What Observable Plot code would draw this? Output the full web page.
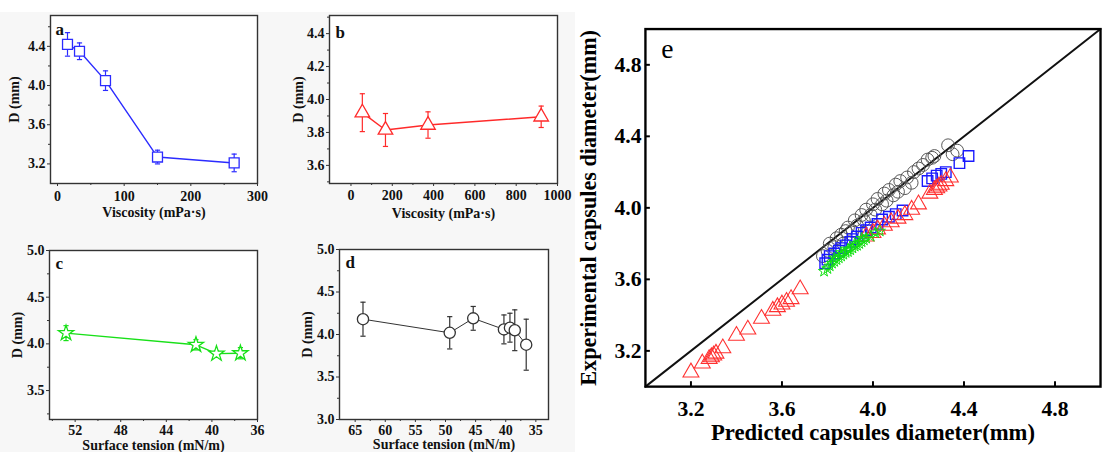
<!DOCTYPE html>
<html>
<head>
<meta charset="utf-8">
<script src="https://cdn.jsdelivr.net/npm/d3@7"></script>
<script src="https://cdn.jsdelivr.net/npm/@observablehq/plot@0.6"></script>
<style>
  html, body { margin: 0; padding: 0; background: #ffffff; overflow: hidden; }
  #root { position: relative; width: 1102px; height: 452px; overflow: hidden; background: #ffffff; }
  #leftbg { position: absolute; left: 0; top: 12px; width: 575px; height: 440px; background: #f7f7f7; }
  .panel { position: absolute; }
</style>
</head>
<body>
<div id="root"><div id="leftbg"></div></div>
<script>
// ---------- Panel a: viscosity (blue squares)
const aVisc = [15, 33, 72, 150, 265];
const aD    = [4.42, 4.35, 4.05, 3.27, 3.21];
const aErr  = [0.12, 0.085, 0.10, 0.07, 0.09];
const aXTicks = [0, 100, 200, 300];
const aXMinor = [50, 150, 250];
const aYTicks = [3.2, 3.6, 4.0, 4.4];
const aYMinor = [3.4, 3.8, 4.2, 4.6];

// ---------- Panel b: viscosity (red triangles)
const bVisc = [55, 167, 373, 921];
const bD    = [3.92, 3.815, 3.845, 3.895];
const bErr  = [0.115, 0.10, 0.08, 0.065];
const bXTicks = [0, 200, 400, 600, 800, 1000];
const bXMinor = [100, 300, 500, 700, 900];
const bYTicks = [3.6, 3.8, 4.0, 4.2, 4.4];
const bYMinor = [3.5, 3.7, 3.9, 4.1, 4.3, 4.5];

// ---------- Panel c: surface tension (green stars)
const cST  = [52.8, 41.4, 39.6, 37.5];
const cD   = [4.115, 3.99, 3.895, 3.90];
const cErr = [0.08, 0.055, 0.03, 0.06];
const cXTicks = [52, 48, 44, 40, 36];
const cXMinor = [54, 50, 46, 42, 38];
const cYTicks = [3.5, 4.0, 4.5, 5.0];
const cYMinor = [3.25, 3.75, 4.25, 4.75];

// ---------- Panel d: surface tension (black circles)
const dST  = [63.7, 49.3, 45.4, 40.3, 39.3, 38.5, 36.6];
const dD   = [4.18, 4.02, 4.19, 4.06, 4.08, 4.05, 3.88];
const dErr = [0.20, 0.19, 0.14, 0.17, 0.17, 0.24, 0.30];
const dXTicks = [65, 60, 55, 50, 45, 40, 35];
const dXMinor = [62.5, 57.5, 52.5, 47.5, 42.5, 37.5];
const dYTicks = [3.0, 3.5, 4.0, 4.5, 5.0];
const dYMinor = [3.25, 3.75, 4.25, 4.75];

// ---------- Panel e: predicted vs experimental
const eCircX = [3.78,3.80,3.81,3.83,3.84,3.86,3.87,3.88,3.89,3.91,3.92,3.93,3.95,3.96,3.97,3.99,4.00,4.01,4.02,4.04,4.05,4.06,4.07,4.09,4.10,4.11,4.12,4.14,4.15,4.17,4.18,4.20,4.22,4.24,4.26,4.27,4.33,4.35,4.37];
const eCircY = [3.73,3.76,3.80,3.78,3.83,3.85,3.80,3.87,3.89,3.87,3.93,3.90,3.96,3.93,3.99,3.96,4.02,3.99,4.05,4.02,4.08,4.04,4.10,4.07,4.13,4.09,4.15,4.11,4.17,4.14,4.20,4.22,4.24,4.27,4.28,4.29,4.35,4.30,4.32];
const eSqX = [3.79,3.80,3.81,3.83,3.85,3.86,3.88,3.90,3.91,3.93,3.95,3.97,3.99,4.02,4.04,4.07,4.10,4.13,4.24,4.26,4.28,4.30,4.32,4.38,4.42];
const eSqY = [3.69,3.71,3.73,3.745,3.76,3.775,3.79,3.81,3.825,3.84,3.86,3.875,3.89,3.91,3.935,3.95,3.965,3.985,4.15,4.165,4.18,4.19,4.20,4.25,4.29];
const eTriX = [3.20,3.25,3.28,3.29,3.30,3.31,3.34,3.40,3.45,3.51,3.56,3.58,3.60,3.62,3.64,3.68,
               3.97,4.00,4.02,4.05,4.08,4.11,4.14,4.17,4.20,4.25,4.27,4.28,4.29,4.30,4.32,4.34];
const eTriY = [3.08,3.13,3.155,3.165,3.175,3.185,3.215,3.285,3.32,3.38,3.425,3.445,3.46,3.475,3.49,3.545,
               3.84,3.86,3.88,3.90,3.92,3.94,3.96,3.99,4.02,4.08,4.10,4.11,4.12,4.13,4.15,4.17];
const eStarX = [3.785,3.80,3.81,3.82,3.83,3.84,3.85,3.86,3.87,3.88,3.89,3.90,3.91,3.92,3.93,3.94,3.95,3.96,3.97,3.99,4.01,4.03,3.83,3.86,3.89,3.92,3.95];
const eStarY = [3.645,3.66,3.675,3.69,3.70,3.71,3.72,3.73,3.74,3.75,3.755,3.765,3.775,3.785,3.79,3.80,3.81,3.82,3.83,3.84,3.86,3.87,3.72,3.75,3.77,3.80,3.83];
const eTicks = [3.2, 3.6, 4.0, 4.4, 4.8];
const eDiag = [3.0, 5.0];

// ---------- helpers
const FONT = "'Liberation Serif', 'Times New Roman', serif";
const capSym = { draw(ctx, size) { const w = Math.sqrt(size / Math.PI); ctx.moveTo(-w, 0); ctx.lineTo(w, 0); } };
const f1 = d3.format(".1f");
const fd = d3.format("d");
const root = document.getElementById("root");

function place(svg, left, top) {
  const wrap = document.createElement("div");
  wrap.className = "panel";
  wrap.style.left = left + "px";
  wrap.style.top = top + "px";
  wrap.appendChild(svg);
  root.appendChild(wrap);
}

function smallPanel(o) {
  const rows = o.xs.map((x, i) => ({ x, y: o.ys[i], e: o.errs[i] }));
  return Plot.plot({
    width: o.width, height: o.height,
    marginLeft: o.ml, marginRight: o.mr, marginTop: o.mt, marginBottom: o.mb,
    style: { fontFamily: FONT, fontWeight: "bold", fontSize: "14px", background: "none", overflow: "visible", color: "#111" },
    x: { domain: o.xDomain, reverse: !!o.xReverse, label: null },
    y: { domain: o.yDomain, label: null },
    marks: [
      Plot.frame({ fill: "white", stroke: null }),
      Plot.line(rows, { x: "x", y: "y", stroke: o.color, strokeWidth: o.lw || 1.4 }),
      Plot.ruleX(rows, { x: "x", y1: d => d.y - d.e, y2: d => d.y + d.e, stroke: o.color, strokeWidth: 1.2 }),
      Plot.dot(rows, { x: "x", y: d => d.y + d.e, symbol: capSym, r: 2.6, stroke: o.color, strokeWidth: 1.2 }),
      Plot.dot(rows, { x: "x", y: d => d.y - d.e, symbol: capSym, r: 2.6, stroke: o.color, strokeWidth: 1.2 }),
      Plot.dot(rows, { x: "x", y: "y", symbol: o.symbol, r: o.r, fill: "white", stroke: o.color, strokeWidth: 1.3 }),
      Plot.axisX({ ticks: o.xTicks, tickFormat: fd, tickSize: 3, tickPadding: o.xPad, fontSize: 14, label: null, stroke: "#333" }),
      Plot.axisX({ ticks: o.xMinor, tickSize: 2, fill: "none", label: null, stroke: "#333" }),
      Plot.axisY({ ticks: o.yTicks, tickFormat: f1, tickSize: 3, tickPadding: 2, fontSize: 14, label: null, stroke: "#333" }),
      Plot.axisY({ ticks: o.yMinor, tickSize: 2, fill: "none", label: null, stroke: "#333" }),
      Plot.frame({ stroke: "#333", strokeWidth: 1.4 }),
      Plot.text([o.xLabel], { frameAnchor: "bottom", dy: o.xLabelDy, text: d => d, fontSize: 14, textAnchor: "middle", lineAnchor: "middle" }),
      Plot.text([o.yLabel], { frameAnchor: "left", dx: o.yLabelDx, text: d => d, fontSize: 14, rotate: -90, textAnchor: "middle", lineAnchor: "middle" }),
      Plot.text([o.letter], { frameAnchor: "top-left", dx: o.letterDx, dy: o.letterDy, text: d => d, fontSize: 17, textAnchor: "start", lineAnchor: "middle" })
    ]
  });
}

// Panel a
place(smallPanel({
  xs: aVisc, ys: aD, errs: aErr, color: "#2b2bff", symbol: "square", r: 5.6,
  width: 290, height: 220, ml: 50, mr: 33, mt: 15, mb: 37,
  xDomain: [-10.5, 300], yDomain: [3.0, 4.715],
  xTicks: aXTicks, xMinor: aXMinor, yTicks: aYTicks, yMinor: aYMinor, xPad: 5,
  xLabel: "Viscosity (mPa·s)", yLabel: "D (mm)", letter: "a",
  xLabelDy: 29, yLabelDx: -36, letterDx: 5, letterDy: 14
}), 0, 0);

// Panel b
place(smallPanel({
  xs: bVisc, ys: bD, errs: bErr, color: "#ff2a2a", symbol: "triangle", r: 5.4,
  width: 290, height: 220, ml: 39, mr: 23, mt: 15, mb: 37,
  xDomain: [-104, 1000], yDomain: [3.49, 4.51],
  xTicks: bXTicks, xMinor: bXMinor, yTicks: bYTicks, yMinor: bYMinor, xPad: 4,
  xLabel: "Viscosity (mPa·s)", yLabel: "D (mm)", letter: "b",
  xLabelDy: 30, yLabelDx: -31, letterDx: 6, letterDy: 17
}), 290, 0);

// Panel c
place(smallPanel({
  xs: cST, ys: cD, errs: cErr, color: "#18e018", symbol: "star", r: 4.8,
  width: 290, height: 232, ml: 49, mr: 33, mt: 30, mb: 33,
  xDomain: [36, 54.25], xReverse: true, yDomain: [3.19, 5.0],
  xTicks: cXTicks, xMinor: cXMinor, yTicks: cYTicks, yMinor: cYMinor, xPad: 3,
  xLabel: "Surface tension (mN/m)", yLabel: "D (mm)", letter: "c",
  xLabelDy: 26, yLabelDx: -32, letterDx: 6, letterDy: 13
}), 0, 220);

// Panel d
place(smallPanel({
  xs: dST, ys: dD, errs: dErr, color: "#333333", symbol: "circle", r: 5.6, lw: 1,
  width: 290, height: 232, ml: 49, mr: 32, mt: 29, mb: 33,
  xDomain: [32.9, 67.6], xReverse: true, yDomain: [3.0, 5.0],
  xTicks: dXTicks, xMinor: dXMinor, yTicks: dYTicks, yMinor: dYMinor, xPad: 3,
  xLabel: "Surface tension (mN/m)", yLabel: "D (mm)", letter: "d",
  xLabelDy: 25, yLabelDx: -32, letterDx: 6, letterDy: 13
}), 290, 220);

// Panel e
const circRows = eCircX.map((x, i) => ({ x, y: eCircY[i] }));
const sqRows   = eSqX.map((x, i) => ({ x, y: eSqY[i] }));
const triRows  = eTriX.map((x, i) => ({ x, y: eTriY[i] }));
const starRows = eStarX.map((x, i) => ({ x, y: eStarY[i] }));

const plotE = Plot.plot({
  width: 535, height: 452,
  marginLeft: 71, marginRight: 2, marginTop: 29, marginBottom: 60,
  style: { fontFamily: FONT, fontWeight: "bold", fontSize: "23px", background: "none", overflow: "visible", color: "#000" },
  x: { domain: [3.0, 5.0], label: null },
  y: { domain: [3.0, 5.0], label: null },
  marks: [
    Plot.line(eDiag.map(v => ({ x: v, y: v })), { x: "x", y: "y", stroke: "#111", strokeWidth: 2 }),
    Plot.dot(circRows, { x: "x", y: "y", symbol: "circle", r: 6.5, fill: "none", stroke: "#555", strokeWidth: 1 }),
    Plot.dot(sqRows, { x: "x", y: "y", symbol: "square", r: 6.0, fill: "none", stroke: "#1a1aff", strokeWidth: 1.4 }),
    Plot.dot(triRows, { x: "x", y: "y", symbol: "triangle", r: 6.0, fill: "none", stroke: "#ff3030", strokeWidth: 1.1 }),
    Plot.dot(starRows, { x: "x", y: "y", symbol: "star", r: 3.6, fill: "none", stroke: "#10e010", strokeWidth: 1 }),
    Plot.axisX({ ticks: eTicks, tickFormat: f1, tickSize: -5, tickPadding: 19, fontSize: 22, label: null, strokeWidth: 2 }),
    Plot.axisY({ ticks: eTicks, tickFormat: f1, tickSize: -5, tickPadding: 9, fontSize: 22, label: null, strokeWidth: 2 }),
    Plot.frame({ stroke: "#000", strokeWidth: 2.4 }),
    Plot.text(["Predicted capsules diameter(mm)"], { frameAnchor: "bottom", dy: 47, text: d => d, fontSize: 23, textAnchor: "middle", lineAnchor: "middle" }),
    Plot.text(["Experimental capsules diameter(mm)"], { frameAnchor: "left", dx: -57, text: d => d, fontSize: 22.5, rotate: -90, textAnchor: "middle", lineAnchor: "middle" }),
    Plot.text(["e"], { frameAnchor: "top-left", dx: 16, dy: 20, text: d => d, fontSize: 28, fontWeight: "normal", textAnchor: "start", lineAnchor: "middle" })
  ]
});
place(plotE, 575, 0);
</script>
</body>
</html>
